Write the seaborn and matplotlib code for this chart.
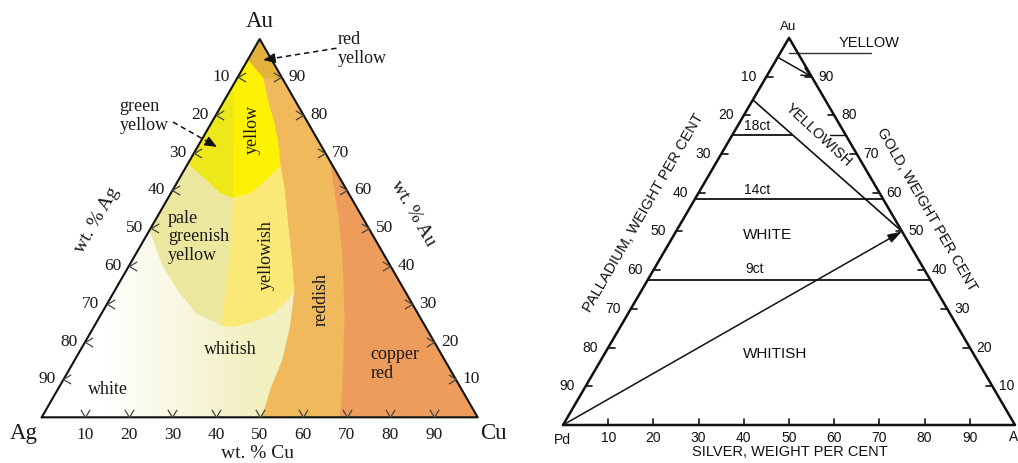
import numpy as np
import matplotlib
matplotlib.use("Agg")
import matplotlib.pyplot as plt
import seaborn as sns
from matplotlib.patches import Polygon
from matplotlib.colors import to_rgb

# ---------------- data: left diagram (Au-Ag-Cu), points are (wt% Cu, wt% Au) ----------------
TICKS = [10, 20, 30, 40, 50, 60, 70, 80, 90]

REDDISH_LEFT = [(6.0, 89.8), (10.2, 83.6), (14.1, 78.4), (17.7, 73.1), (21.6, 66.5),
                (25.9, 59.9), (32.1, 49.3), (36.8, 41.4), (41.3, 33.4), (45.0, 24.0),
                (47.7, 15.0), (48.7, 7.9), (50.5, 0.0)]
COPPER_LEFT = [(32.5, 67.5), (36.6, 60.8), (41.7, 52.8), (46.8, 44.1), (51.6, 35.3),
               (56.2, 26.5), (60.4, 17.7), (64.5, 8.9), (68.5, 0.0)]
YELLOW_BOTTOM = [(0.0, 67.0), (6.5, 62.6), (11.3, 59.2), (15.0, 57.9), (18.2, 59.2),
                 (20.2, 62.7), (21.6, 66.5)]
DIVIDER = [(15.0, 57.9), (22.0, 42.5), (29.0, 24.4)]
PALE_BOTTOM = [(0.0, 49.5), (8.0, 39.8), (15.3, 32.8), (21.8, 27.5), (29.0, 24.4)]
YELLOWISH_BOTTOM = [(29.0, 24.4), (32.0, 23.9), (35.9, 25.3), (39.4, 27.5), (40.7, 31.0), (41.3, 33.4)]
RED_YELLOW = [(0.0, 100.0), (0.0, 94.6), (6.0, 89.8), (11.1, 88.9)]
GREEN_YELLOW_TOP = [(0.0, 87.8), (15.0, 57.9)]

# ---------------- data: right diagram (Au-Pd-Ag), points are (wt% Ag, wt% Au) ----------------
CARAT_NAMES = ["18ct", "14ct", "9ct"]
CARAT_AU = [75.0, 58.5, 37.5]
YELLOWISH_LINE = [(0.0, 84.0), (50.0, 50.0)]
YELLOW_ARROW = [(0.0, 95.0), (10.0, 90.0)]
PD_ARROW = [(0.0, 0.0), (50.0, 50.0)]

S3 = np.sqrt(3) / 2


def tern(right, au):
    right = np.asarray(right, float)
    au = np.asarray(au, float)
    return right + au / 2, au * S3


def poly_xy(pts):
    r, a = zip(*pts)
    x, y = tern(r, a)
    return list(zip(x, y))


sns.set_theme(style="white")
plt.rcParams['font.family'] = ['Liberation Serif', 'DejaVu Serif']

fig = plt.figure(figsize=(10.18, 4.63), dpi=100)
axL = fig.add_axes([0, 0, 510 / 1018, 1])
axR = fig.add_axes([510 / 1018, 0, 508 / 1018, 1])


def sline(ax, pts, **kw):
    x, y = tern(*zip(*pts))
    sns.lineplot(x=x, y=y, ax=ax, sort=False, estimator=None, legend=False, **kw)


# ================= LEFT =================
ax = axL
white = np.array(to_rgb("#ffffff"))
cream = np.array(to_rgb("#f2f0c0"))
gx = np.linspace(0, 100, 400)
t = np.clip((gx - 15) / 33, 0, 1)
cols = (1 - t)[:, None] * white + t[:, None] * cream
img = np.tile(cols[None, :, :], (4, 1, 1))
im = ax.imshow(img, extent=(0, 100, 0, 100 * S3), origin='lower', aspect='auto',
               zorder=0, interpolation='bilinear')
tri = Polygon(poly_xy([(0, 0), (100, 0), (0, 100)]), closed=True, transform=ax.transData)
im.set_clip_path(tri)

regions = []
regions.append(([(0.0, 94.6)] + REDDISH_LEFT[0:5] + YELLOW_BOTTOM[::-1][1:], "#fdf104"))
regions.append((GREEN_YELLOW_TOP + YELLOW_BOTTOM[2::-1], "#ece81a"))
regions.append((YELLOW_BOTTOM[0:4] + DIVIDER[1:] + PALE_BOTTOM[::-1][1:], "#ece79e"))
regions.append((DIVIDER + YELLOWISH_BOTTOM[1:] + REDDISH_LEFT[7:3:-1] + YELLOW_BOTTOM[5:3:-1], "#fae977"))
regions.append((RED_YELLOW, "#e3b13c"))
regions.append((REDDISH_LEFT[0:1] + [(11.1, 88.9)] + COPPER_LEFT + REDDISH_LEFT[::-1], "#f0ba5c"))
regions.append((COPPER_LEFT + [(100.0, 0.0)], "#ee9c5c"))

for pts, c in regions:
    ax.add_patch(Polygon(poly_xy(pts), closed=True, facecolor=c, edgecolor=c, lw=0.3, zorder=1))

outline = [(0, 0), (100, 0), (0, 100), (0, 0)]
sline(ax, outline, color="#111111", lw=1.5, zorder=5)

tick_col = "#444444"
V_BOTTOM = [(-0.6, 1.0), (0, 0), (0.6, 1.0)]
V_LEFT = [(1.0, 0.6), (0, 0), (1.0, -0.6)]
V_RIGHT = [(-1.0, 0.6), (0, 0), (-1.0, -0.6)]
bx, by = tern(TICKS, [0] * 9)
ax.plot(bx, by, ls='none', marker=V_BOTTOM, ms=11, mfc='none', mec=tick_col, mew=0.9, zorder=6)
lx, ly = tern([0] * 9, [100 - v for v in TICKS])
ax.plot(lx, ly, ls='none', marker=V_LEFT, ms=11, mfc='none', mec=tick_col, mew=0.9, zorder=6)
rx, ry = tern([100 - v for v in TICKS], TICKS)
ax.plot(rx, ry, ls='none', marker=V_RIGHT, ms=11, mfc='none', mec=tick_col, mew=0.9, zorder=6)

tc = "#1a1a1a"
for v, x, y in zip(TICKS, bx, by):
    ax.text(x, -4.05, str(v), ha='center', va='center', fontsize=12.5, color=tc)
for v, x, y in zip(TICKS, lx, ly):
    ax.text(x - 1.8, y, str(v), ha='right', va='center', fontsize=12.5, color=tc)
for v, x, y in zip(TICKS, rx, ry):
    ax.text(x + 1.6, y, str(v), ha='left', va='center', fontsize=12.5, color=tc)

ax.text(50.1, 90.6, "Au", ha='center', va='center', fontsize=16.5, color=tc)
ax.text(-4.2, -3.6, "Ag", ha='center', va='center', fontsize=16.5, color=tc)
ax.text(103.5, -3.6, "Cu", ha='center', va='center', fontsize=16.5, color=tc)
ax.text(12.6, 45.2, "wt. % Ag", ha='center', va='center', rotation=60, fontsize=14, color=tc)
ax.text(85.2, 46.8, "wt. % Au", ha='center', va='center', rotation=-60, fontsize=14, color=tc)
ax.text(49.6, -8.2, "wt. % Cu", ha='center', va='center', fontsize=14, color=tc)

fs = 13
ax.text(67.9, 84.3, "red\nyellow", ha='left', va='center', fontsize=fs, color=tc, linespacing=1.1)
ax.text(17.9, 69.0, "green\nyellow", ha='left', va='center', fontsize=fs, color=tc, linespacing=1.1)
ax.text(48.2, 65.8, "yellow", ha='center', va='center', rotation=90, fontsize=fs, color=tc)
ax.text(29.0, 41.3, "pale\ngreenish\nyellow", ha='left', va='center', fontsize=fs, color=tc, linespacing=1.1)
ax.text(51.6, 37.2, "yellowish", ha='center', va='center', rotation=90, fontsize=fs, color=tc)
ax.text(64.2, 26.9, "reddish", ha='center', va='center', rotation=90, fontsize=fs, color=tc)
ax.text(43.2, 15.6, "whitish", ha='center', va='center', fontsize=fs, color=tc)
ax.text(75.5, 12.2, "copper\nred", ha='left', va='center', fontsize=fs, color=tc, linespacing=1.1)
ax.text(15.3, 6.4, "white", ha='center', va='center', fontsize=fs, color=tc)

for (x0, y0), (x1, y1) in [((67.6, 84.5), (50.8, 81.8)), ((30.1, 67.6), (40.2, 61.9))]:
    dx, dy = x1 - x0, y1 - y0
    L = np.hypot(dx, dy)
    xm, ym = x1 - dx / L * 2.2, y1 - dy / L * 2.2
    ax.plot([x0, xm], [y0, ym], color="#111111", lw=1.1, ls=(0, (3.5, 2.5)), zorder=7)
    ax.annotate("", xy=(x1, y1), xytext=(xm, ym),
                arrowprops=dict(arrowstyle='-|>,head_length=0.6,head_width=0.25',
                                color="#111111", lw=1.0, shrinkA=0, shrinkB=0), zorder=7)

ax.set_xlim(-9.564, 107.41)
ax.set_ylim(-10.46, 95.54)
ax.axis('off')

# ================= RIGHT =================
ax = axR
sans = ['Liberation Sans', 'DejaVu Sans']
k = "#111111"
sline(ax, outline, color=k, lw=1.8, zorder=5)

(a0, u0), (a1, u1) = YELLOWISH_LINE
au18 = CARAT_AU[0]
ag_cross = a0 + (a1 - a0) * (u0 - au18) / (u0 - u1)
sline(ax, [(0.0, au18), (ag_cross, au18)], color=k, lw=1.3)
sline(ax, [(21.6, au18), (100 - au18, au18)], color=k, lw=1.0)
for au in CARAT_AU[1:]:
    sline(ax, [(0.0, au), (100 - au, au)], color=k, lw=1.3)
sline(ax, YELLOWISH_LINE, color=k, lw=1.2)

for pts, style in [(YELLOW_ARROW, '->,head_length=0.5,head_width=0.25'),
                   (PD_ARROW, '-|>,head_length=0.7,head_width=0.22')]:
    x, y = tern(*zip(*pts))
    ax.annotate("", xy=(x[1], y[1]), xytext=(x[0], y[0]),
                arrowprops=dict(arrowstyle=style, color=k, lw=1.1, shrinkA=0, shrinkB=0))

ax.plot([50.0, 68.1], [83.2, 83.2], color="#333333", lw=1.0)

tl = 1.4
bx, by = tern(TICKS, [0] * 9)
for x in bx:
    ax.plot([x, x], [0, tl], color=k, lw=1.2)
lx, ly = tern([0] * 9, [100 - v for v in TICKS])
for x, y in zip(lx, ly):
    ax.plot([x, x + tl], [y, y], color=k, lw=1.2)
rx, ry = tern([100 - v for v in TICKS], TICKS)
for x, y in zip(rx, ry):
    ax.plot([x - tl, x], [y, y], color=k, lw=1.2)

nfs = 10
for v, x in zip(TICKS, bx):
    ax.text(x, -2.8, str(v), ha='center', va='center', fontsize=nfs, family=sans, color=k)
for v, x, y in zip(TICKS, lx, ly):
    ax.text(x - 2.3, y, str(v), ha='right', va='center', fontsize=nfs, family=sans, color=k)
for v, x, y in zip(TICKS, rx, ry):
    ax.text(x + 1.5, y, str(v), ha='left', va='center', fontsize=nfs, family=sans, color=k)

ax.text(49.85, 89.1, "Au", ha='center', va='center', fontsize=9.5, family=sans, color=k)
ax.text(-0.07, -3.4, "Pd", ha='center', va='center', fontsize=10, family=sans, color=k)
ax.text(99.6, -2.6, "A", ha='center', va='center', fontsize=10, family=sans, color=k)
ax.text(50.1, -6.1, "SILVER, WEIGHT PER CENT", ha='center', va='center', fontsize=10.5, family=sans, color=k)
ax.text(17.8, 47.4, "PALLADIUM, WEIGHT PER CENT", ha='center', va='center', rotation=60,
        fontsize=10.5, family=sans, color=k)
ax.text(80.5, 48.1, "GOLD, WEIGHT PER CENT", ha='center', va='center', rotation=-60,
        fontsize=10.5, family=sans, color=k)

ax.text(67.7, 85.5, "YELLOW", ha='center', va='center', fontsize=10.5, family=sans, color=k)
ax.text(56.5, 64.9, "YELLOWISH", ha='center', va='center', rotation=-43, fontsize=10.5,
        family=sans, color=k)
pos = [(42.85, 66.96), (42.85, 52.57), (42.3, 34.8)]
for name, (x, y) in zip(CARAT_NAMES, pos):
    ax.text(x, y, name, ha='center', va='center', fontsize=10, family=sans, color=k)
ax.text(45.3, 42.5, "WHITE", ha='center', va='center', fontsize=11, family=sans, color=k)
ax.text(46.9, 15.8, "WHITISH", ha='center', va='center', fontsize=11, family=sans, color=k)

ax.set_xlim(-11.73, 100.66)
ax.set_ylim(-8.50, 95.08)
ax.axis('off')

fig.savefig("out.png", dpi=100)
